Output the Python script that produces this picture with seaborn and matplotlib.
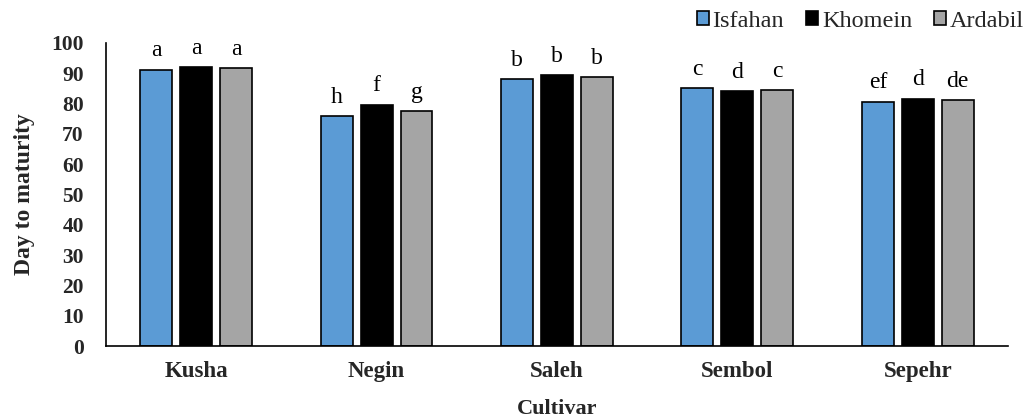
import matplotlib
matplotlib.use("Agg")
import matplotlib.pyplot as plt
import seaborn as sns
import pandas as pd

cultivars = ["Kusha", "Negin", "Saleh", "Sembol", "Sepehr"]
locations = ["Isfahan", "Khomein", "Ardabil"]
isfahan = [91.2, 75.9, 88.1, 85.0, 80.6]
khomein = [92.0, 79.7, 89.4, 84.1, 81.6]
ardabil = [91.6, 77.6, 88.8, 84.4, 81.1]
letters_isfahan = ["a", "h", "b", "c", "ef"]
letters_khomein = ["a", "f", "b", "d", "d"]
letters_ardabil = ["a", "g", "b", "c", "de"]
y_ticks = [0, 10, 20, 30, 40, 50, 60, 70, 80, 90, 100]

colors = ["#5B9BD5", "#000000", "#A5A5A5"]

df = pd.DataFrame({
    "Cultivar": cultivars * 3,
    "Location": [locations[0]] * 5 + [locations[1]] * 5 + [locations[2]] * 5,
    "Days": isfahan + khomein + ardabil,
})

sns.set_style("white")
plt.rcParams["font.family"] = ["Liberation Serif", "DejaVu Serif"]

fig = plt.figure(figsize=(10.27, 4.19), dpi=100)
ax = fig.add_axes([0.1032, 0.1742, 0.8783, 0.7232])

sns.barplot(data=df, x="Cultivar", y="Days", hue="Location", order=cultivars,
            hue_order=locations, palette=colors, saturation=1, width=0.664, gap=0.2,
            edgecolor="black", linewidth=1.2, errorbar=None, ax=ax, legend=True)

for cont, labs in zip(ax.containers, [letters_isfahan, letters_khomein, letters_ardabil]):
    ax.bar_label(cont, labels=labs, padding=6, fontsize=17, color="black",
                 family="Liberation Serif")

ax.set_ylim(0, 100)
ax.set_xlim(-0.5, 4.5)
ax.set_yticks(y_ticks)
ax.set_yticklabels([str(t) for t in y_ticks], fontsize=15.5, fontweight="bold")
ax.set_xticks(range(len(cultivars)))
ax.set_xticklabels(cultivars, fontsize=16.5, fontweight="bold")
ax.tick_params(axis="y", length=0, pad=16)
ax.tick_params(axis="x", length=0, pad=11)

ax.set_ylabel("Day to maturity", fontsize=17, fontweight="bold", labelpad=12)
ax.set_xlabel("Cultivar", fontsize=16, fontweight="bold", labelpad=12)

for s in ["top", "right"]:
    ax.spines[s].set_visible(False)
for s in ["left", "bottom"]:
    ax.spines[s].set_color("black")
    ax.spines[s].set_linewidth(1.2)

handles, labels = ax.get_legend_handles_labels()
ax.get_legend().remove()
fig.legend(handles, labels, loc="center right", bbox_to_anchor=(0.997, 1 - 21.5 / 419),
           ncol=3, frameon=False, prop={"family": "Liberation Serif", "size": 17.5},
           handlelength=0.5, handleheight=0.5,
           handletextpad=0.15, columnspacing=0.9, borderpad=0, borderaxespad=0)

fig.savefig("out.png", dpi=100)
